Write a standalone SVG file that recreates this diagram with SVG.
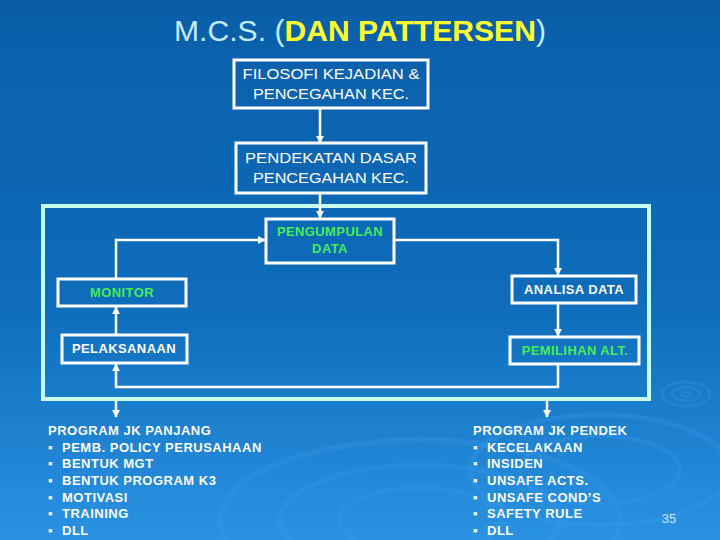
<svg xmlns="http://www.w3.org/2000/svg" width="720" height="540" viewBox="0 0 720 540">
<defs>
<linearGradient id="bg" x1="0" y1="0" x2="0" y2="1">
<stop offset="0" stop-color="#0a5ea8"/>
<stop offset="0.55" stop-color="#0e6cba"/>
<stop offset="1" stop-color="#2a92e2"/>
</linearGradient>
<marker id="ah" viewBox="0 0 10 10" refX="9" refY="5" markerWidth="3.2" markerHeight="3.2" orient="auto" markerUnits="strokeWidth">
<path d="M0,0 L10,5 L0,10 z" fill="#ffffff"/>
</marker>
<style>
.box{fill:none;stroke:#ffffff;stroke-width:3}
.frame{fill:none;stroke:#c8ffee;stroke-width:4}
.t{font-family:"Liberation Sans",Arial,sans-serif;fill:#ffffff;text-anchor:middle;font-size:15.5px}
.tb{font-family:"Liberation Sans",Arial,sans-serif;font-weight:bold;font-size:13px;text-anchor:middle;letter-spacing:0.4px}
.w{fill:#ffffff}
.g{fill:#44ee55}
.c{fill:none;stroke:#ffffff;stroke-width:2.5;marker-end:url(#ah)}
.l{font-family:"Liberation Sans",Arial,sans-serif;font-weight:bold;font-size:13px;fill:#ffffff;letter-spacing:0.5px}
.rip{fill:none;stroke:#3a9be8;stroke-opacity:0.28}
</style>
</defs>
<rect width="720" height="540" fill="url(#bg)"/>
<g id="ripples">
<ellipse class="rip" cx="686" cy="394" rx="24" ry="12" stroke-width="3"/>
<ellipse class="rip" cx="686" cy="394" rx="14" ry="7" stroke-width="3"/>
<ellipse class="rip" cx="686" cy="394" rx="5" ry="2.5" stroke-width="3"/>
<ellipse class="rip" cx="420" cy="520" rx="200" ry="80" stroke-width="6"/>
<ellipse class="rip" cx="420" cy="520" rx="140" ry="55" stroke-width="5"/>
<ellipse class="rip" cx="420" cy="520" rx="80" ry="32" stroke-width="5"/>
<ellipse class="rip" cx="600" cy="470" rx="130" ry="55" stroke-width="5"/>
<ellipse class="rip" cx="600" cy="470" rx="80" ry="34" stroke-width="4"/>
</g>
<g id="title">
<text x="174" y="41" font-family="'Liberation Sans',Arial,sans-serif" font-size="29" fill="#c4ecff" textLength="372" lengthAdjust="spacingAndGlyphs"><tspan>M.C.S. (</tspan><tspan fill="#ffff33" font-weight="bold">DAN PATTERSEN</tspan><tspan>)</tspan></text>
</g>
<g id="frame"><rect class="frame" x="43" y="206" width="606" height="193"/></g>
<g id="connectors">
<line class="c" x1="320" y1="109" x2="320" y2="143"/>
<line class="c" x1="320" y1="193" x2="320" y2="218"/>
<polyline class="c" points="116,279 116,240 265,240"/>
<polyline class="c" points="394,240 558,240 558,275"/>
<line class="c" x1="558" y1="303" x2="558" y2="336"/>
<line class="c" x1="116" y1="335" x2="116" y2="307"/>
<polyline class="c" points="558,364 558,387 116,387 116,364"/>
<line class="c" x1="116" y1="401" x2="116" y2="417"/>
<line class="c" x1="547" y1="401" x2="547" y2="417"/>
</g>
<g id="filosofi">
<rect class="box" x="234" y="60" width="194" height="48"/>
<text class="t" x="331" y="79" textLength="177" lengthAdjust="spacingAndGlyphs">FILOSOFI KEJADIAN &amp;</text>
<text class="t" x="331" y="99" textLength="156" lengthAdjust="spacingAndGlyphs">PENCEGAHAN KEC.</text>
</g>
<g id="pendekatan">
<rect class="box" x="236" y="143" width="190" height="50"/>
<text class="t" x="331" y="163" textLength="172" lengthAdjust="spacingAndGlyphs">PENDEKATAN DASAR</text>
<text class="t" x="331" y="183" textLength="156" lengthAdjust="spacingAndGlyphs">PENCEGAHAN KEC.</text>
</g>
<g id="pengumpulan">
<rect class="box" x="266" y="219" width="128" height="44"/>
<text class="tb g" x="330" y="236" font-size="12.5">PENGUMPULAN</text>
<text class="tb g" x="330" y="253" font-size="12.5">DATA</text>
</g>
<g id="monitor">
<rect class="box" x="58" y="279" width="128" height="27"/>
<text class="tb g" x="122" y="297">MONITOR</text>
</g>
<g id="pelaksanaan">
<rect class="box" x="62" y="335" width="125" height="28"/>
<text class="tb w" x="124" y="353">PELAKSANAAN</text>
</g>
<g id="analisa">
<rect class="box" x="512" y="276" width="124" height="27"/>
<text class="tb w" x="574" y="294">ANALISA DATA</text>
</g>
<g id="pemilihan">
<rect class="box" x="510" y="337" width="129" height="27"/>
<text class="tb g" x="575" y="355">PEMILIHAN ALT.</text>
</g>
<g id="program-panjang">
<text class="l" x="48" y="435">PROGRAM JK PANJANG</text>
<text class="l" x="48" y="452">▪</text><text class="l" x="62" y="452">PEMB. POLICY PERUSAHAAN</text>
<text class="l" x="48" y="468">▪</text><text class="l" x="62" y="468">BENTUK MGT</text>
<text class="l" x="48" y="485">▪</text><text class="l" x="62" y="485">BENTUK PROGRAM K3</text>
<text class="l" x="48" y="502">▪</text><text class="l" x="62" y="502">MOTIVASI</text>
<text class="l" x="48" y="518">▪</text><text class="l" x="62" y="518">TRAINING</text>
<text class="l" x="48" y="535">▪</text><text class="l" x="62" y="535">DLL</text>
</g>
<g id="program-pendek">
<text class="l" x="473" y="435">PROGRAM JK PENDEK</text>
<text class="l" x="473" y="452">▪</text><text class="l" x="487" y="452">KECELAKAAN</text>
<text class="l" x="473" y="468">▪</text><text class="l" x="487" y="468">INSIDEN</text>
<text class="l" x="473" y="485">▪</text><text class="l" x="487" y="485">UNSAFE ACTS.</text>
<text class="l" x="473" y="502">▪</text><text class="l" x="487" y="502">UNSAFE COND’S</text>
<text class="l" x="473" y="518">▪</text><text class="l" x="487" y="518">SAFETY RULE</text>
<text class="l" x="473" y="535">▪</text><text class="l" x="487" y="535">DLL</text>
</g>
<g id="page-number">
<text x="669" y="523" font-family="'Liberation Sans',Arial,sans-serif" font-size="13" fill="#cfe2ff" text-anchor="middle">35</text>
</g>
</svg>
